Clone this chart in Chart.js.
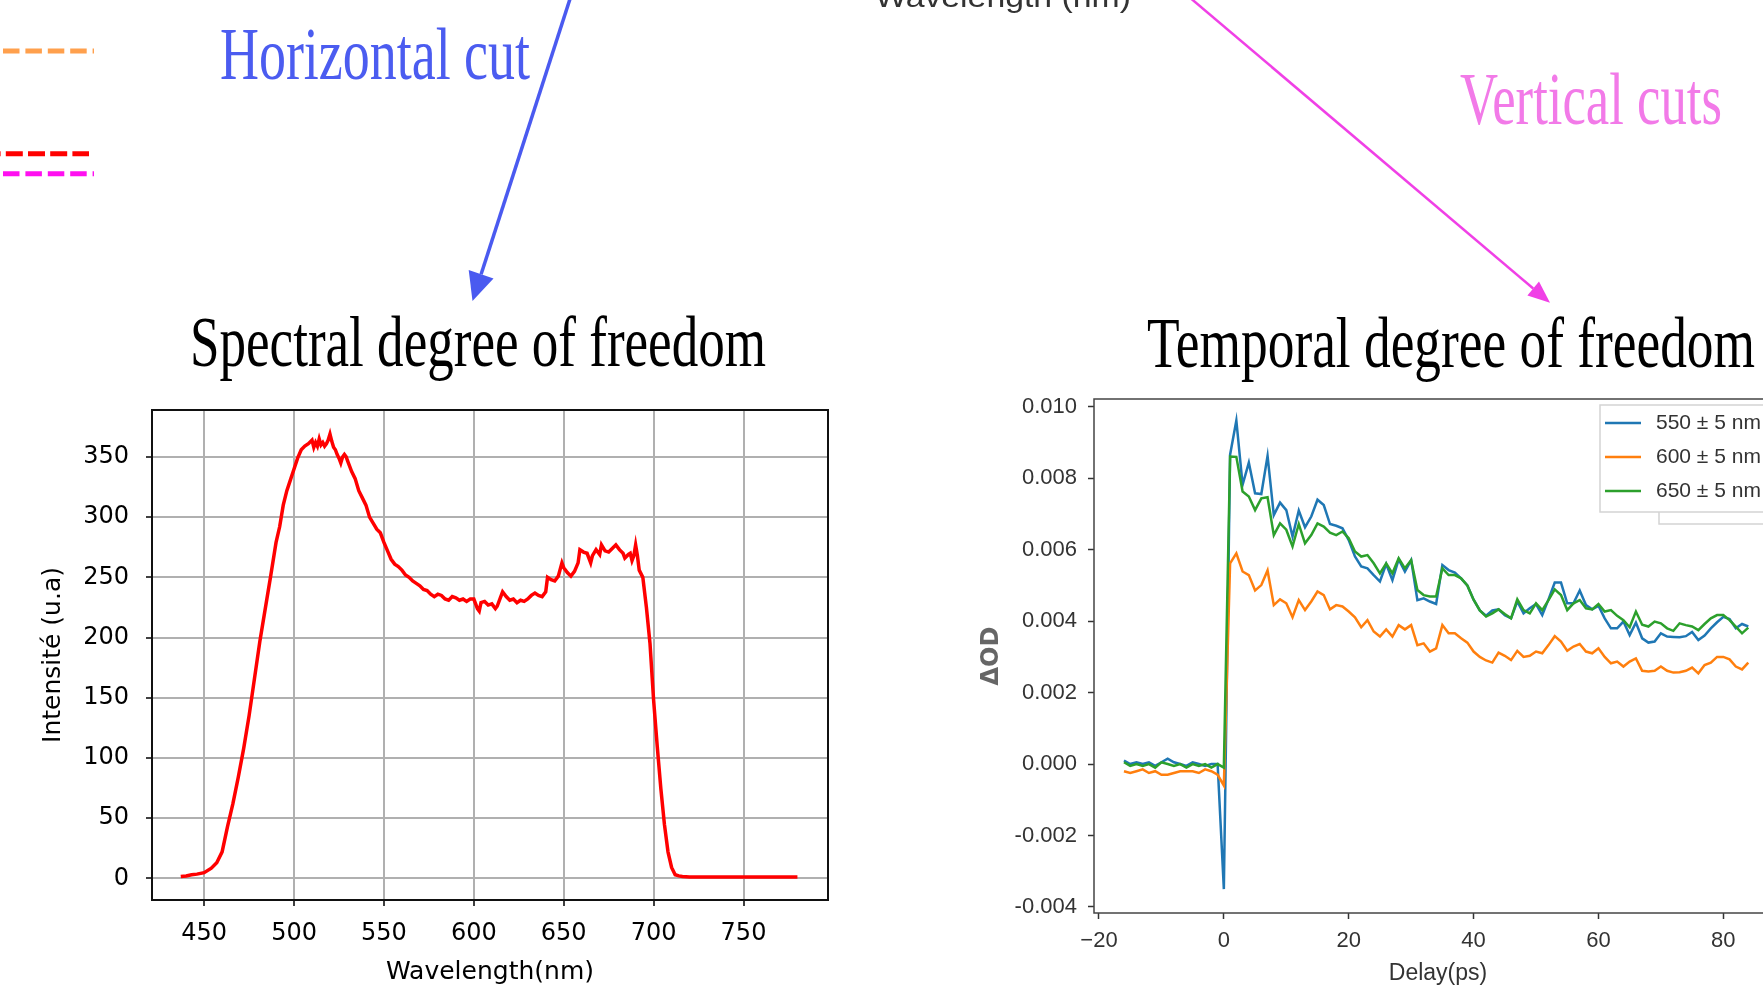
<!DOCTYPE html>
<html><head><meta charset="utf-8">
<script src="https://cdn.jsdelivr.net/npm/chart.js@4.4.1/dist/chart.umd.min.js"></script>
<style>
html,body{margin:0;padding:0;background:#fff;}
body{width:1763px;height:988px;overflow:hidden;position:relative;}
#specWrap{position:absolute;left:0;top:380px;width:860px;height:608px;}
#tempWrap{position:absolute;left:960px;top:380px;width:860px;height:608px;}
#deco{position:absolute;left:0;top:0;pointer-events:none;}
</style></head><body>
<div id="specWrap"><canvas id="spec" width="860" height="608"></canvas></div>
<div id="tempWrap"><canvas id="temp" width="860" height="608"></canvas></div>
<svg id="deco" width="1763" height="988" xmlns="http://www.w3.org/2000/svg">
  <line x1="3" y1="51" x2="94" y2="51" stroke="#ffa04d" stroke-width="5" stroke-dasharray="16.5 5.9"/>
  <line x1="-16.4" y1="153.7" x2="89" y2="153.7" stroke="#ff0000" stroke-width="5" stroke-dasharray="17 5.2"/>
  <line x1="3" y1="173.7" x2="94" y2="173.7" stroke="#ff10f0" stroke-width="5" stroke-dasharray="16.5 5.9"/>
  <text x="875" y="7" font-family="Liberation Sans" font-size="30" fill="#333" textLength="256" lengthAdjust="spacingAndGlyphs">Wavelength (nm)</text>
  <text x="220" y="78.5" font-family="Liberation Serif" font-size="73" fill="#4b5cf0" textLength="310" lengthAdjust="spacingAndGlyphs">Horizontal cut</text>
  <text x="1460" y="123.5" font-family="Liberation Serif" font-size="73" fill="#f27ae8" textLength="262" lengthAdjust="spacingAndGlyphs">Vertical cuts</text>
  <text x="190" y="366" font-family="Liberation Serif" font-size="72" fill="#000" textLength="576" lengthAdjust="spacingAndGlyphs">Spectral degree of freedom</text>
  <text x="1147" y="367" font-family="Liberation Serif" font-size="72" fill="#000" textLength="608" lengthAdjust="spacingAndGlyphs">Temporal degree of freedom</text>
  <line x1="574.5" y1="-15" x2="481.1" y2="274.3" stroke="#4a5af0" stroke-width="3.5"/>
  <polygon points="472.5,301 493.5,278.5 468.7,270.1" fill="#4a5af0"/>
  <line x1="1175" y1="-15" x2="1533.2" y2="288.5" stroke="#f040e6" stroke-width="2.5"/>
  <polygon points="1550,302.7 1527.4,295.4 1539,281.6" fill="#f040e6"/>
</svg>
<script>
// ---------- Spectral cut data ----------
const wavelengths = [437,440,443,446,450,454,457,460,463,466,469,472,475,478,481,484,487,490,492,494,496,498,500,502,504,506,508,510,511,512,513,514,515,516,517,518,519,520,521,522,523,524,525,526,527,528,529,530,532,534,536,538,540,542,544,546,548,550,552,554,556,558,560,562,564,566,568,570,572,574,576,578,580,582,584,586,588,590,592,594,596,598,600,602,603,604,606,608,610,612,613,615,616,618,620,622,624,626,628,630,632,634,636,638,640,641,643,645,647,649,650,652,654,656,658,659,661,663,665,666,668,670,671,673,675,677,679,681,683,684,686,687,688,689,690,691,692,694,696,698,700,702,704,706,708,710,712,714,716,720,730,740,750,760,770,780];
const intensities = [1.5,2,3,3.5,4.7,8.4,13,22,43,62,84,108,135,166,197,224,251,279,292,310,322,331,340,349,356,359,361,364,358,362,359,365,360,362,359,361,364,369,363,358,356,352,349,345,350,352,350,346,338,332,322,316,310,300,295,290,287,279,272,265,261,259,256,252,250,247,245,243,240,239,236,234,236,235,232,231,234,233,231,232,230,232,232,224,222,229,230,227,228,224,226,234,238,234,231,232,229,231,230,232,235,237,235,234,238,250,248,247,251,262,258,254,251,255,262,273,271,270,262,268,273,269,277,272,271,274,277,273,270,266,269,270,264,268,277,268,256,250,225,195,148,110,75,45,22,9,3,2,1.5,1.2,1.2,1.2,1.2,1.2,1.2,1.2];
const specXTicks = [450,500,550,600,650,700,750];
const specXTickLabels = ['450','500','550','600','650','700','750'];
const specYTicks = [0,50,100,150,200,250,300,350];
const specYTickLabels = ['0','50','100','150','200','250','300','350'];

// ---------- Temporal cut data ----------
const delays = [-16,-15,-14,-13,-12,-11,-10,-9,-8,-7,-6,-5,-4,-3,-2,-1,0,1,2,3,4,5,6,7,8,9,10,11,12,13,14,15,16,17,18,19,20,21,22,23,24,25,26,27,28,29,30,31,32,33,34,35,36,37,38,39,40,41,42,43,44,45,46,47,48,49,50,51,52,53,54,55,56,57,58,59,60,61,62,63,64,65,66,67,68,69,70,71,72,73,74,75,76,77,78,79,80,81,82,83,84];
const od550 = [0.0001,0.0,0.00005,0.0,0.00005,-0.00005,0.00005,0.00015,0.00005,0.0,-0.00005,0.00005,0.0,-0.00005,0.0,0.0,-0.0035,
0.00866,0.00962,0.00782,0.00844,0.00758,0.00756,0.00863,0.00697,0.00732,0.00711,
0.00637,0.00710,0.00663,0.00693,0.00740,0.00725,0.00672,0.00667,0.00660,0.00627,
0.00581,0.00553,0.00548,0.00529,0.00511,0.00560,0.00515,0.00573,0.00539,0.00571,
0.00459,0.00464,0.00455,0.00448,0.00557,0.00543,0.00536,0.00520,0.00500,0.00460,
0.00430,0.00415,0.00430,0.00433,0.00417,0.00408,0.00455,0.00422,0.00436,0.00448,
0.00417,0.00461,0.00508,0.00508,0.00450,0.00450,0.00486,0.00445,0.00433,0.00443,
0.00408,0.00380,0.00380,0.00399,0.00361,0.00396,0.00352,0.00340,0.00343,0.00366,
0.00357,0.00356,0.00355,0.00358,0.00370,0.00347,0.00360,0.00380,0.00397,0.00412,
0.00406,0.00380,0.00392,0.00385];
const od600 = [-0.0002,-0.00025,-0.0002,-0.00015,-0.00025,-0.0002,-0.0003,-0.0003,-0.00025,-0.0002,-0.0002,-0.0002,-0.00025,-0.00015,-0.0002,-0.0003,-0.0006,
0.00562,0.00590,0.00539,0.00529,0.00486,0.00501,0.00542,0.00445,0.00461,0.00450,
0.00411,0.00459,0.00431,0.00455,0.00483,0.00473,0.00433,0.00445,0.00441,0.00427,
0.00411,0.00383,0.00403,0.00371,0.00357,0.00377,0.00357,0.00389,0.00377,0.00389,
0.00333,0.00338,0.00315,0.00324,0.00389,0.00366,0.00366,0.00352,0.00340,0.00315,
0.00300,0.00290,0.00284,0.00312,0.00303,0.00291,0.00317,0.00300,0.00303,0.00315,
0.00310,0.00333,0.00358,0.00343,0.00317,0.00329,0.00336,0.00315,0.00310,0.00324,
0.00300,0.00282,0.00287,0.00273,0.00287,0.00296,0.00261,0.00259,0.00261,0.00273,
0.00261,0.00256,0.00257,0.00261,0.00270,0.00254,0.00277,0.00284,0.00300,0.00300,
0.00293,0.00273,0.00265,0.00284];
const od650 = [0.00005,-0.00005,0.0,-0.00005,0.0,-0.0001,0.00005,0.0,-0.00005,0.0,-0.0001,0.0,-0.00005,0.0,-0.0001,0.0,-0.0001,
0.00861,0.00860,0.00763,0.00749,0.00711,0.00744,0.00747,0.00641,0.00674,0.00656,
0.00609,0.00672,0.00618,0.00641,0.00674,0.00665,0.00648,0.00641,0.00651,0.00632,
0.00595,0.00581,0.00585,0.00562,0.00534,0.00562,0.00534,0.00576,0.00548,0.00571,
0.00487,0.00473,0.00469,0.00469,0.00548,0.00529,0.00529,0.00520,0.00500,0.00460,
0.00430,0.00413,0.00422,0.00433,0.00420,0.00408,0.00461,0.00431,0.00422,0.00450,
0.00431,0.00459,0.00489,0.00473,0.00431,0.00450,0.00459,0.00436,0.00433,0.00448,
0.00427,0.00431,0.00415,0.00403,0.00383,0.00427,0.00390,0.00385,0.00399,0.00394,
0.00380,0.00373,0.00394,0.00389,0.00385,0.00375,0.00392,0.00408,0.00417,0.00417,
0.00403,0.00385,0.00366,0.00382];
const seriesLabels = ['550 ± 5 nm','600 ± 5 nm','650 ± 5 nm'];
const seriesColors = ['#1f77b4','#ff7f0e','#2ca02c'];
const delayTicks = [-20,0,20,40,60,80];
const delayTickLabels = ['\u221220','0','20','40','60','80'];
const odTicks = [-0.004,-0.002,0,0.002,0.004,0.006,0.008,0.010];
const odTickLabels = ['-0.004','-0.002','0.000','0.002','0.004','0.006','0.008','0.010'];

const frame = (id, color, width) => ({
  id,
  afterDatasetsDraw(chart) {
    const {ctx, chartArea: a} = chart;
    ctx.save();
    ctx.strokeStyle = color; ctx.lineWidth = width;
    ctx.strokeRect(a.left, a.top, a.right - a.left, a.bottom - a.top);
    ctx.restore();
  }
});

const noOverhang = (s) => { s.paddingTop = 0; s.paddingBottom = 0; s.paddingLeft = 0; s.paddingRight = 0; };
const pts = (xs, ys) => xs.map((x, i) => ({x, y: ys[i]}));

// ---------- Spectral chart ----------
new Chart(document.getElementById('spec'), {
  type: 'line',
  data: { datasets: [{ label: 'Spectre', data: pts(wavelengths, intensities), borderColor: '#ff0000', borderWidth: 3.5, pointRadius: 0, tension: 0, fill: false }] },
  options: {
    responsive: false, animation: false, devicePixelRatio: 1,
    layout: { padding: { left: 0, top: 30, right: 32, bottom: 0 } },
    plugins: { legend: { display: false }, tooltip: { enabled: false } },
    scales: {
      x: {
        type: 'linear', min: 421, max: 797,
        afterFit(s) { s.height = 88; noOverhang(s); },
        afterBuildTicks(s) { s.ticks = specXTicks.map(v => ({value: v})); },
        ticks: { autoSkip: false, maxRotation: 0, padding: 13, color: '#000', font: { family: 'DejaVu Sans', size: 24 }, callback: (v, i) => specXTickLabels[i] },
        grid: { color: '#b0b0b0', lineWidth: 2, tickColor: '#000', tickLength: 6, tickWidth: 1.5 },
        border: { display: false },
        title: { display: true, text: 'Wavelength(nm)', color: '#000', font: { family: 'DejaVu Sans', size: 25 }, padding: { top: 0, bottom: 1 } }
      },
      y: {
        type: 'linear', min: -18, max: 389,
        afterFit(s) { s.width = 152; noOverhang(s); },
        afterBuildTicks(s) { s.ticks = specYTicks.map(v => ({value: v})); },
        ticks: { autoSkip: false, padding: 17, color: '#000', font: { family: 'DejaVu Sans', size: 24 }, callback: (v, i) => specYTickLabels[i] },
        grid: { color: '#b0b0b0', lineWidth: 2, tickColor: '#000', tickLength: 6, tickWidth: 1.5 },
        border: { display: false },
        title: { display: true, text: 'Intensité (u.a)', color: '#000', font: { family: 'DejaVu Sans', size: 25 }, padding: { top: 38, bottom: 0 } }
      }
    }
  },
  plugins: [frame('specFrame', '#111', 2)]
});

// ---------- Temporal chart ----------
const legendBox = {
  id: 'legendBox',
  afterDraw(chart) {
    const {ctx, chartArea: a} = chart;
    const x0 = a.left + 506, y0 = a.top + 6;
    ctx.save();
    ctx.fillStyle = '#fff'; ctx.strokeStyle = '#d4d4d4'; ctx.lineWidth = 1.5;
    ctx.beginPath(); ctx.rect(x0 + 59, y0 + 20, 400, 99); ctx.fill(); ctx.stroke();
    ctx.beginPath(); ctx.rect(x0, y0, 400, 107); ctx.fill(); ctx.stroke();
    chart.data.datasets.forEach((ds, i) => {
      const y = y0 + 18 + i * 34;
      ctx.strokeStyle = ds.borderColor; ctx.lineWidth = 2.5;
      ctx.beginPath(); ctx.moveTo(x0 + 5, y); ctx.lineTo(x0 + 41, y); ctx.stroke();
      ctx.fillStyle = '#333'; ctx.font = '21px "Liberation Sans"'; ctx.textBaseline = 'middle'; ctx.textAlign = 'left';
      ctx.fillText(ds.label, x0 + 56, y);
    });
    ctx.restore();
  }
};

const odSeries = [od550, od600, od650];
new Chart(document.getElementById('temp'), {
  type: 'line',
  data: {
    datasets: odSeries.map((s, i) => ({
      label: seriesLabels[i], data: pts(delays, s), borderColor: seriesColors[i], borderWidth: 2.5,
      pointRadius: 0, tension: 0, fill: false, order: 2 - i
    }))
  },
  options: {
    responsive: false, animation: false, devicePixelRatio: 1,
    layout: { padding: { left: 0, top: 19, right: 38, bottom: 0 } },
    plugins: { legend: { display: false }, tooltip: { enabled: false } },
    scales: {
      x: {
        type: 'linear', min: -20.8, max: 89.4,
        afterFit(s) { s.height = 75; noOverhang(s); },
        afterBuildTicks(s) { s.ticks = delayTicks.map(v => ({value: v})); },
        ticks: { autoSkip: false, maxRotation: 0, padding: 9, color: '#333', font: { family: 'Liberation Sans', size: 22 }, callback: (v, i) => delayTickLabels[i] },
        grid: { drawOnChartArea: false, tickColor: '#333', tickLength: 6, tickWidth: 1.5 },
        border: { display: false },
        title: { display: true, text: 'Delay(ps)', color: '#333', font: { family: 'Liberation Sans', size: 23 }, padding: { top: 0, bottom: 1 } }
      },
      y: {
        type: 'linear', min: -0.00417, max: 0.01022,
        afterFit(s) { s.width = 134; noOverhang(s); },
        afterBuildTicks(s) { s.ticks = odTicks.map(v => ({value: v})); },
        ticks: { autoSkip: false, padding: 11, color: '#333', font: { family: 'Liberation Sans', size: 22 }, callback: (v, i) => odTickLabels[i] },
        grid: { drawOnChartArea: false, tickColor: '#333', tickLength: 6, tickWidth: 1.5 },
        border: { display: false },
        title: { display: true, text: 'ΔOD', color: '#666', font: { family: 'DejaVu Sans', size: 24, weight: 'bold' }, padding: { top: 17, bottom: 0 } }
      }
    }
  },
  plugins: [frame('tempFrame', '#444', 1.5), legendBox]
});
</script>
</body></html>
